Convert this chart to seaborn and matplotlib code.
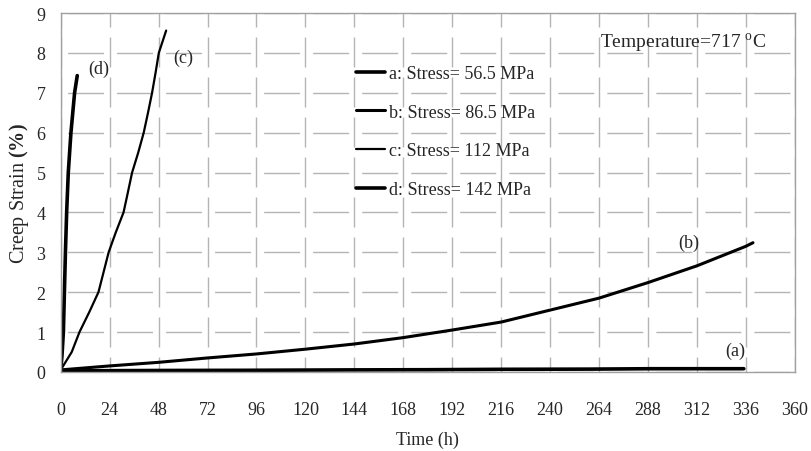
import numpy as np
import pandas as pd
import matplotlib
matplotlib.use("Agg")
import matplotlib.pyplot as plt
import seaborn as sns

# creep curves (time in h, strain in %)
a_time = [0, 20, 44, 90, 140, 180, 216, 260, 290, 335]
a_strain = [0.02, 0.03, 0.035, 0.04, 0.05, 0.055, 0.065, 0.07, 0.08, 0.08]

b_time = [0, 24, 48, 72, 96, 120, 144, 168, 192, 216, 240, 264, 288, 312, 336, 339.5]
b_strain = [0.05, 0.15, 0.24, 0.35, 0.45, 0.57, 0.7, 0.86, 1.05, 1.25, 1.55, 1.85, 2.24, 2.66, 3.15, 3.24]

c_time = [0, 3, 5.4, 9.2, 14, 18.5, 21, 23.5, 27, 30.8, 32.5, 35, 38, 40.7, 42.8, 44.8, 46.5, 48.1, 51.7]
c_strain = [0.05, 0.3, 0.5, 1.0, 1.5, 2.0, 2.5, 3.0, 3.5, 4.0, 4.4, 5.0, 5.5, 6.0, 6.5, 7.0, 7.5, 8.0, 8.56]

d_time = [0, 0.6, 1.3, 1.8, 2.3, 2.9, 3.7, 5.0, 6.8, 8.1]
d_strain = [0.05, 0.4, 1.0, 2.0, 3.0, 4.0, 5.0, 6.0, 7.0, 7.43]

labels = ["a: Stress= 56.5 MPa", "b: Stress= 86.5 MPa", "c: Stress= 112 MPa", "d: Stress= 142 MPa"]
tags = ["(a)", "(b)", "(c)", "(d)"]
tag_pos = [(331, 0.55), (308, 3.25), (60, 7.9), (18.4, 7.6)]
widths = [2.6, 2.2, 1.6, 2.6]

x_ticks = list(range(0, 361, 24))
y_ticks = list(range(0, 10))

sns.set_theme(style="white")
plt.rcParams['font.family'] = ['Liberation Serif', 'DejaVu Serif']
plt.rcParams['mathtext.fontset'] = 'custom'
plt.rcParams['mathtext.rm'] = 'Liberation Serif'
plt.rcParams['mathtext.bf'] = 'Liberation Serif:bold'

fig = plt.figure(figsize=(8.12, 4.52), dpi=100)
ax = fig.add_axes([0.0748, 0.175, 0.904, 0.794])

series = [(a_time, a_strain), (b_time, b_strain), (c_time, c_strain), (d_time, d_strain)]
for (t, s), lab, lw in zip(series, labels, widths):
    sns.lineplot(x=t, y=s, ax=ax, color='black', linewidth=lw, label=lab,
                 estimator=None, sort=False)

for tag, (tx, ty) in zip(tags, tag_pos):
    ax.text(tx, ty, tag, fontsize=13, ha='center', va='center')

ax.text(0.734, 0.919, "Temperature=717 $^{\\rm o}$C", transform=ax.transAxes,
        fontsize=14, ha='left', va='center')

ax.set_xlim(0, 360)
ax.set_ylim(0, 9)
ax.set_xticks(x_ticks)
ax.set_yticks(y_ticks)
ax.tick_params(axis='both', labelsize=13, direction='out', length=7,
               width=1, color='#a0a0a0', pad=4)
ax.tick_params(axis='x', pad=14)

# excel-like long dash gridlines: horizontal gaps sit on the vertical lines,
# vertical gaps sit halfway between the horizontal lines
ax.yaxis.grid(True, color='#b4b4b4', linewidth=1.0, linestyle=(25.9 + 4.7, (25.9, 9.4)))
ax.xaxis.grid(True, color='#b4b4b4', linewidth=1.0, linestyle=(10.8, (21.6, 7.2)))
for sp in ax.spines.values():
    sp.set_color('#a0a0a0')
    sp.set_linewidth(1.0)

ax.set_xlabel("Time (h)", fontsize=13, labelpad=9)
ax.set_ylabel("Creep Strain $\\mathbf{(\\%)}$", fontsize=14.5, labelpad=4)

ax.legend(loc='upper left', bbox_to_anchor=(0.392, 0.875), frameon=False,
          fontsize=13, handlelength=1.6, handletextpad=0.25, labelspacing=1.2,
          borderaxespad=0)

fig.savefig("out.png", dpi=100)
